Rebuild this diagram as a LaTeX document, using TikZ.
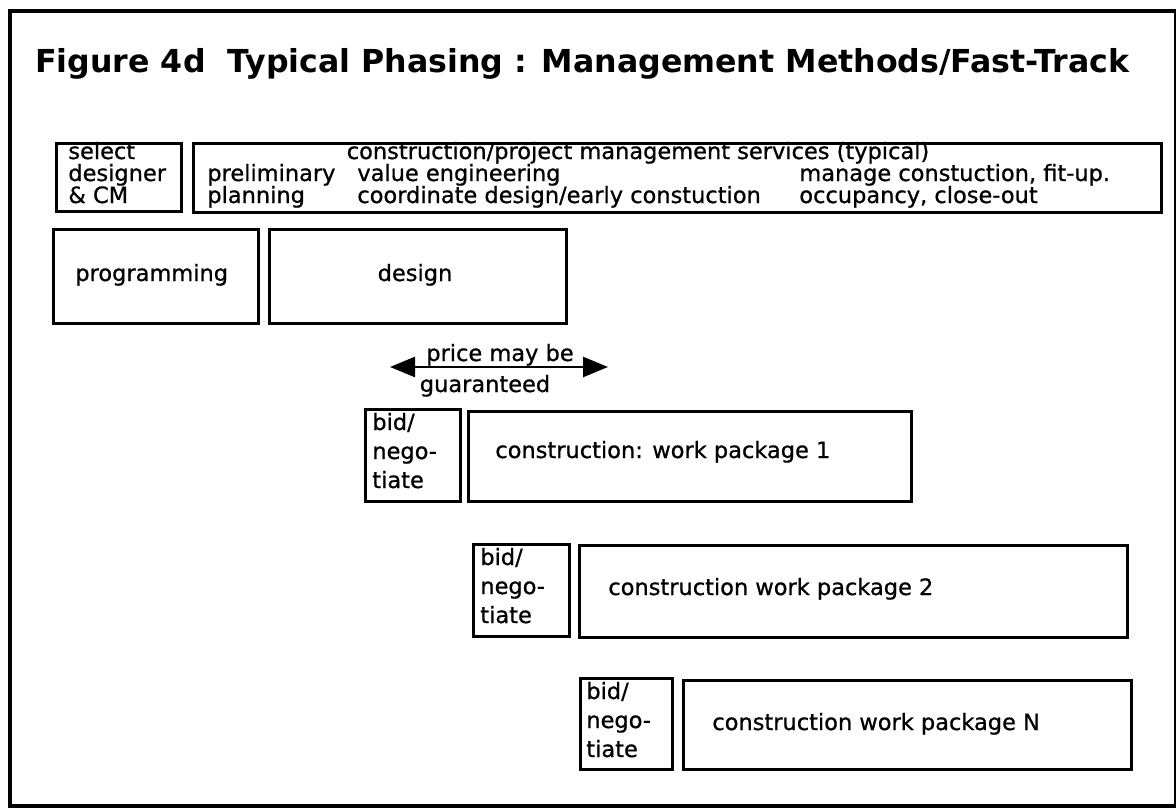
\documentclass[tikz,border=0pt]{standalone}
\usepackage{fontspec}
\setmainfont{DejaVu Sans}
\newfontfamily\bodyfont[RawFeature={embolden=0.8}]{DejaVu Sans}
\usetikzlibrary{arrows.meta}
\begin{document}
\begin{tikzpicture}[x=0.02cm,y=-0.02cm,
  box/.style={draw,line width=1.5pt,anchor=north west,inner sep=0pt},
  txt/.style={inner sep=0pt,anchor=base,font=\bodyfont\fontsize{12.8}{14}\selectfont},
  ltxt/.style={txt,anchor=base west},
  arr/.style={line width=1.5pt,{Triangle[length=0.5cm,width=0.4cm]}-{Triangle[length=0.5cm,width=0.4cm]}}]
\useasboundingbox (0,0) rectangle (1176,808);
\node[draw,line width=2.2pt,anchor=north west,inner sep=0pt,minimum width=1166*0.02cm,minimum height=795*0.02cm] (frame) at (8,9) {};
\node[anchor=base west,inner sep=0pt,font=\bfseries\fontsize{18}{22}\selectfont] (title) at (35,72) {Figure 4d\ \ Typical Phasing : Management Methods/Fast-Track};
% boxes
\node[box,minimum width=125*0.02cm,minimum height=68*0.02cm] (sel) at (55,142) {};
\node[box,minimum width=968*0.02cm,minimum height=69*0.02cm] (svc) at (192,142) {};
\node[box,minimum width=205*0.02cm,minimum height=94*0.02cm] (prog) at (52,228) {};
\node[box,minimum width=297*0.02cm,minimum height=94*0.02cm] (des) at (268,228) {};
\node[box,minimum width=95*0.02cm,minimum height=92*0.02cm] (bid1) at (364,408) {};
\node[box,minimum width=443*0.02cm,minimum height=90*0.02cm] (c1) at (467,410) {};
\node[box,minimum width=96*0.02cm,minimum height=92*0.02cm] (bid2) at (472,543) {};
\node[box,minimum width=548*0.02cm,minimum height=92*0.02cm] (c2) at (578,544) {};
\node[box,minimum width=92*0.02cm,minimum height=91*0.02cm] (bid3) at (579,677) {};
\node[box,minimum width=448*0.02cm,minimum height=89*0.02cm] (cN) at (682,679) {};
% texts
\node[ltxt] (sel1) at (68,159) {select};
\node[ltxt] (sel2) at (68,181) {designer};
\node[ltxt] (sel3) at (68,203) {\& CM};
\node[txt] (svct) at (638,159) {construction/project management services (typical)};
\node[ltxt] (s1a) at (207,181) {preliminary};
\node[ltxt] (s1b) at (207,203) {planning};
\node[ltxt] (s2a) at (357,181) {value engineering};
\node[ltxt] (s2b) at (357,203) {coordinate design/early constuction};
\node[ltxt] (s3a) at (799,181) {manage constuction, fit-up.};
\node[ltxt] (s3b) at (799,203) {occupancy, close-out};
\node[ltxt] (progt) at (75,281) {programming};
\node[txt] (dest) at (415,281) {design};
% arrow
\coordinate (aL) at (390,367);
\coordinate (aR) at (608,367);
\draw[arr] (aL) -- (aR);
\node[txt] (pr1) at (500,361) {price may be};
\node[txt] (pr2) at (485,392) {guaranteed};
% bid texts
\foreach \n/\x/\y in {b1/372/430, b2/480/565, b3/586/699}{
  \node[ltxt] (\n a) at (\x,\y) {bid/};
  \node[ltxt] (\n b) at (\x,\y+29) {nego-};
  \node[ltxt] (\n c) at (\x,\y+58) {tiate};
}
\node[ltxt] (c1t) at (495,458) {construction: work package 1};
\node[ltxt] (c2t) at (608,595) {construction work package 2};
\node[ltxt] (cNt) at (712,730) {construction work package N};
\end{tikzpicture}
\end{document}
